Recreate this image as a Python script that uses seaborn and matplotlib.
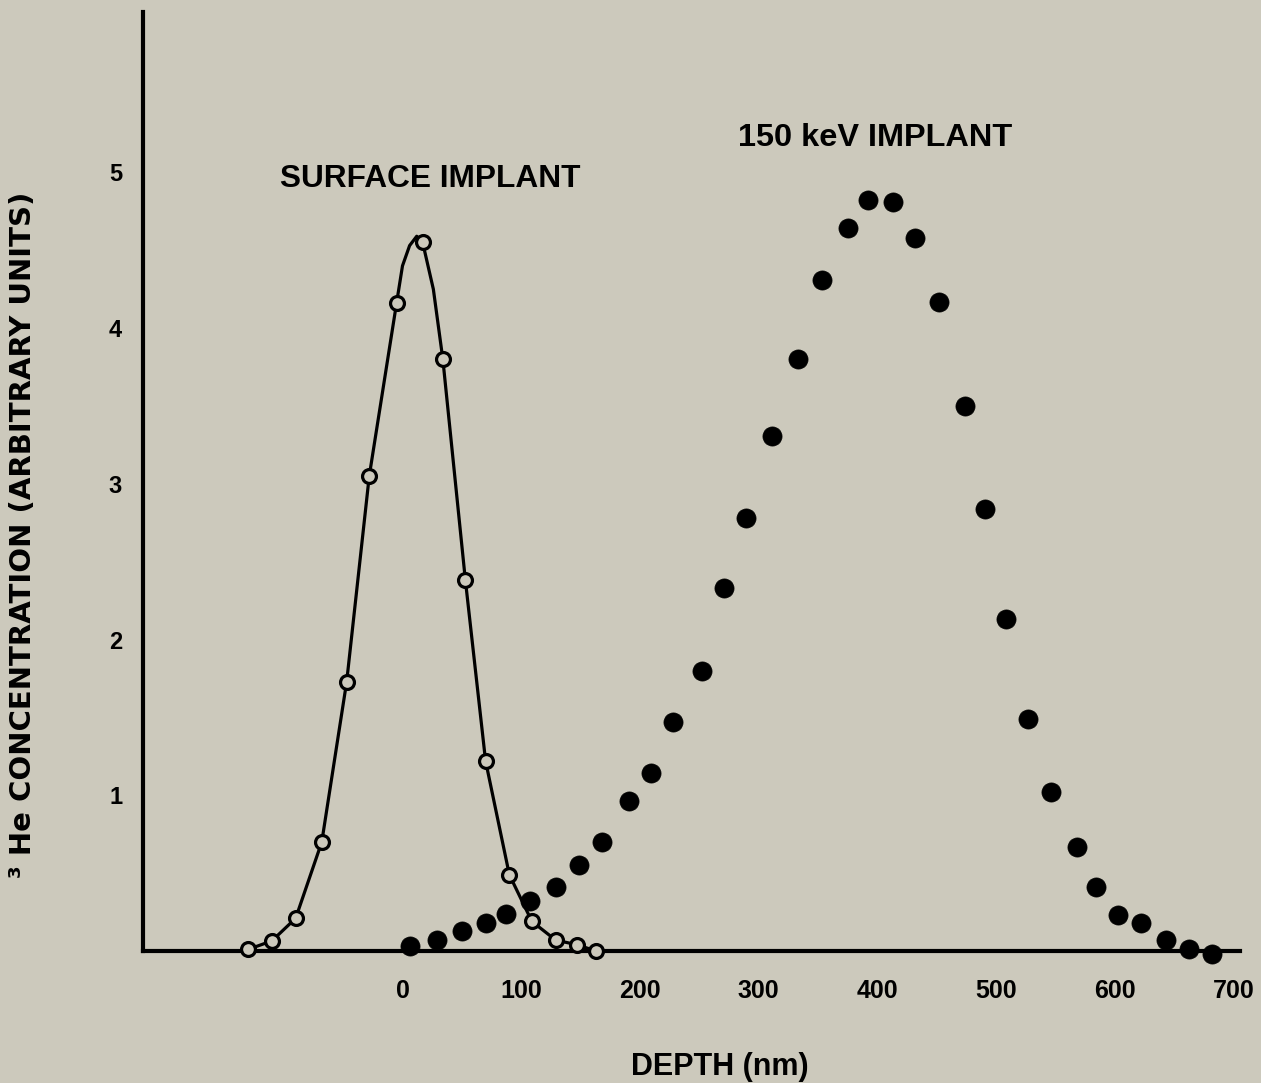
import matplotlib
matplotlib.use("Agg")
import matplotlib.pyplot as plt
import seaborn as sns

# ---- data ----
surface_depth = [-130, -110, -90, -68, -47, -28, -5, 17, 34, 53, 70, 90, 109, 129, 147, 163]
surface_conc = [0.01, 0.065, 0.21, 0.70, 1.73, 3.05, 4.16, 4.55, 3.80, 2.38, 1.22, 0.49, 0.19, 0.07, 0.04, 0.0]

# smooth guide curve drawn through the surface-implant points
curve_depth = [-130, -110, -90, -68, -47, -28, -5, 0, 6, 12, 17, 26, 34, 53, 70, 90, 109, 129, 147, 163]
curve_conc = [0.01, 0.065, 0.21, 0.70, 1.73, 3.05, 4.16, 4.40, 4.53, 4.59, 4.55, 4.25, 3.80, 2.38, 1.22, 0.49, 0.19, 0.07, 0.04, 0.0]

kev_depth = [6, 29, 50, 70, 87, 107, 129, 149, 168, 191, 209, 228, 252, 271, 289, 311, 333, 353,
             375, 392, 413, 432, 452, 474, 491, 508, 527, 546, 568, 584, 603, 622, 643, 663, 682]
kev_conc = [0.03, 0.07, 0.13, 0.18, 0.24, 0.32, 0.41, 0.55, 0.70, 0.96, 1.14, 1.47, 1.80, 2.33, 2.78,
            3.31, 3.80, 4.31, 4.64, 4.82, 4.81, 4.58, 4.17, 3.50, 2.84, 2.13, 1.49, 1.02, 0.67, 0.41,
            0.23, 0.18, 0.07, 0.01, -0.02]

x_ticks = [0, 100, 200, 300, 400, 500, 600, 700]
x_tick_labels = ["0", "100", "200", "300", "400", "500", "600", "700"]
y_ticks = [1, 2, 3, 4, 5]
y_tick_labels = ["1", "2", "3", "4", "5"]

x_label = "DEPTH (nm)"
y_label = "³ He CONCENTRATION (ARBITRARY UNITS)"
label_surface = "SURFACE IMPLANT"
label_kev = "150 keV IMPLANT"

BG = "#ccc9bc"

sns.set_theme(style="white")
plt.rcParams['font.family'] = ['Liberation Sans', 'DejaVu Sans']

fig = plt.figure(figsize=(12.61, 10.83), dpi=100, facecolor=BG)
ax = fig.add_axes([0.1134, 0.1219, 0.870, 0.867])
ax.set_facecolor(BG)

sns.lineplot(x=curve_depth, y=curve_conc, sort=False, estimator=None, color="black",
             linewidth=2.3, ax=ax, zorder=2)
sns.scatterplot(x=surface_depth, y=surface_conc, s=100, facecolor=BG, edgecolor="black",
                linewidth=2.3, ax=ax, zorder=4, clip_on=False)
sns.scatterplot(x=kev_depth, y=kev_conc, s=190, color="black", edgecolor="black",
                linewidth=0.5, ax=ax, zorder=4, clip_on=False)

ax.set_xlim(-218.6, 705.6)
ax.set_ylim(0, 6.03)

for side in ["top", "right"]:
    ax.spines[side].set_visible(False)
for side in ["left", "bottom"]:
    ax.spines[side].set_color("black")
    ax.spines[side].set_linewidth(3.0)

ax.set_xticks(x_ticks)
ax.set_xticklabels(x_tick_labels, fontweight="bold")
ax.set_yticks(y_ticks)
ax.set_yticklabels(y_tick_labels, fontweight="bold")
ax.tick_params(axis="x", direction="in", length=16, width=1.6, color="black",
               labelsize=18, pad=20, labelcolor="black")
ax.tick_params(axis="y", direction="in", length=18, width=1.6, color="black",
               labelsize=17, pad=15, labelcolor="black")

ax.set_xlabel(x_label, fontsize=22, fontweight="bold", color="black")
ax.xaxis.set_label_coords(0.526, -0.108)
ax.set_ylabel(y_label, fontsize=21, fontweight="bold", color="black",
              family=["DejaVu Sans"])
ax.yaxis.set_label_coords(-0.0966, 0.443)

ax.text(23, 4.96, label_surface, fontsize=22.8, fontweight="bold", ha="center", va="center",
        color="black")
ax.text(398, 5.22, label_kev, fontsize=23.4, fontweight="bold", ha="center", va="center",
        color="black")

fig.savefig("out.png", dpi=100, facecolor=BG)
